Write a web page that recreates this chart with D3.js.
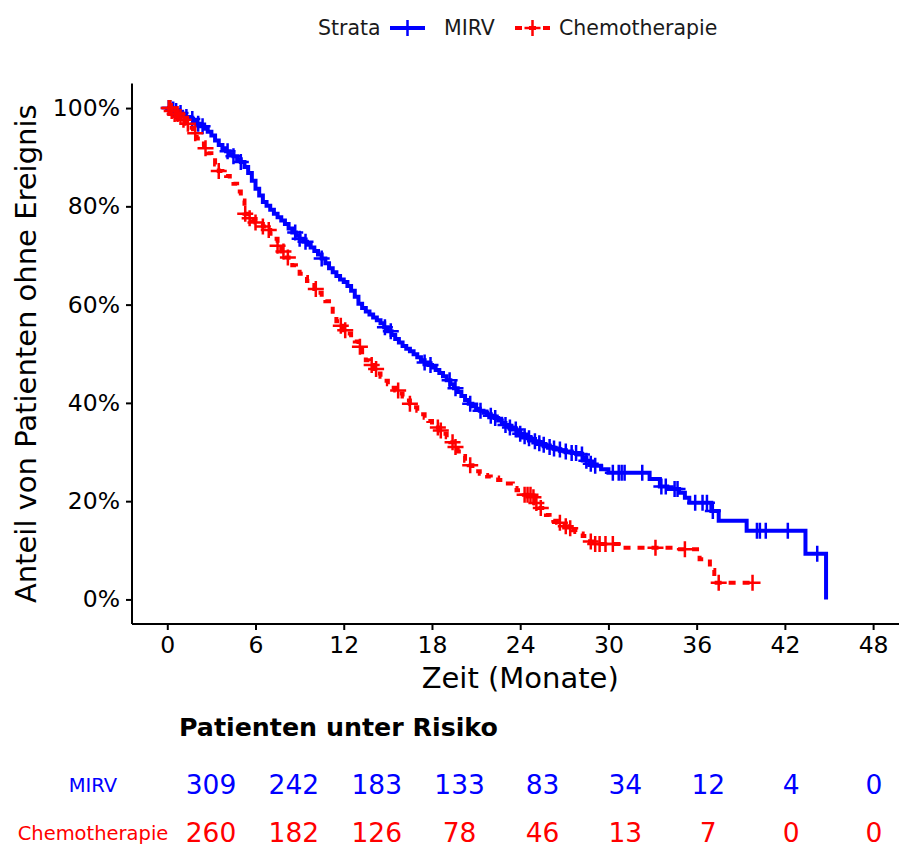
<!DOCTYPE html>
<html>
<head>
<meta charset="utf-8">
<script src="https://cdn.jsdelivr.net/npm/d3@7"></script>
<style>
  html, body { margin: 0; padding: 0; background: #ffffff; }
  svg { display: block; font-family: "DejaVu Sans", sans-serif; }
</style>
</head>
<body>
<svg id="chart" width="899" height="848"></svg>
<script>
// Kaplan-Meier estimates (time in months, survival in %), step after each time
const mirvTime = [0, 0.25, 0.5, 0.75, 1.0, 1.25, 1.5, 1.75, 2.0, 2.25, 2.5, 2.75, 3.0, 3.25, 3.5, 3.75, 4.0, 4.25, 4.5, 4.75, 5.0, 5.25, 5.5, 5.75, 6.0, 6.25, 6.5, 6.75, 7.0, 7.25, 7.5, 7.75, 8.0, 8.25, 8.5, 8.75, 9.0, 9.25, 9.5, 9.75, 10.0, 10.25, 10.5, 10.75, 11.0, 11.25, 11.5, 11.75, 12.0, 12.25, 12.5, 12.75, 13.0, 13.25, 13.5, 13.75, 14.0, 14.25, 14.5, 14.75, 15.0, 15.25, 15.5, 15.75, 16.0, 16.25, 16.5, 16.75, 17.0, 17.25, 17.5, 17.75, 18.0, 18.25, 18.5, 18.75, 19.0, 19.25, 19.5, 19.75, 20.0, 20.25, 20.5, 20.75, 21.0, 21.25, 21.5, 21.75, 22.0, 22.25, 22.5, 22.75, 23.0, 23.25, 23.5, 23.75, 24.0, 24.25, 24.5, 24.75, 25.0, 25.25, 25.5, 25.75, 26.0, 26.25, 26.5, 26.75, 27.0, 27.5, 28.0, 28.25, 28.5, 28.75, 29.0, 29.5, 30.0, 32.8, 33.5, 34.0, 34.8, 35.2, 35.5, 37.0, 37.5, 39.4, 43.4, 44.8];
const mirvSurv = [100, 99.7, 99.4, 99.0, 98.7, 98.2, 97.8, 97.3, 96.8, 96.3, 95.8, 95.2, 94.4, 93.4, 92.5, 91.8, 91.2, 90.6, 90.2, 89.6, 89.0, 88.0, 86.8, 85.2, 83.6, 82.2, 80.9, 80.1, 79.3, 78.5, 77.8, 77.1, 76.4, 75.5, 74.7, 74.0, 73.4, 72.8, 72.2, 71.6, 70.9, 70.2, 69.4, 68.4, 67.4, 66.6, 65.8, 65.1, 64.6, 63.8, 62.8, 61.6, 60.2, 59.3, 58.6, 58.0, 57.4, 56.8, 56.2, 55.4, 54.6, 53.8, 53.0, 52.3, 51.6, 51.0, 50.5, 49.9, 49.3, 48.7, 48.2, 47.7, 47.2, 46.7, 46.1, 45.4, 44.6, 43.8, 43.0, 42.2, 41.4, 40.6, 39.8, 39.3, 38.8, 38.4, 38.0, 37.7, 37.4, 36.9, 36.4, 35.9, 35.5, 35.0, 34.6, 34.1, 33.7, 33.2, 32.8, 32.5, 32.2, 31.8, 31.5, 31.2, 31.0, 30.7, 30.5, 30.3, 30.1, 29.8, 29.5, 28.8, 28.2, 27.6, 27.2, 26.5, 25.8, 24.5, 23.0, 22.5, 21.7, 20.7, 19.7, 18.0, 16.0, 14.0, 9.3, 0];
const mirvCensor = [0.1, 0.2, 0.4, 0.6, 0.9, 1.3, 1.7, 2.1, 2.4, 4.1, 4.5, 5.0, 8.7, 9.0, 9.4, 10.5, 14.8, 15.2, 17.5, 17.9, 19.2, 19.6, 20.6, 21.3, 22.0, 22.3, 23.0, 23.3, 23.7, 24.0, 24.3, 24.6, 25.0, 25.3, 25.6, 26.0, 26.3, 26.7, 27.1, 27.5, 27.8, 28.2, 28.5, 28.8, 29.1, 30.3, 30.7, 30.9, 31.1, 32.3, 33.6, 33.9, 34.5, 34.7, 35.9, 36.4, 36.7, 37.1, 40.1, 40.3, 40.7, 42.2, 44.2];
const mirvLastTime = 44.8;

const chemoTime = [0, 0.25, 0.5, 0.75, 1.0, 1.25, 1.5, 1.75, 2.0, 2.25, 2.5, 2.75, 3.0, 3.25, 3.5, 3.75, 4.0, 4.25, 4.5, 4.75, 5.0, 5.25, 5.5, 5.75, 6.0, 6.25, 6.5, 6.75, 7.0, 7.25, 7.5, 7.75, 8.0, 8.25, 8.5, 8.75, 9.0, 9.25, 9.5, 9.75, 10.0, 10.25, 10.5, 10.75, 11.0, 11.25, 11.5, 11.75, 12.0, 12.25, 12.5, 12.75, 13.0, 13.25, 13.5, 13.75, 14.0, 14.25, 14.5, 14.75, 15.0, 15.25, 15.5, 15.75, 16.0, 16.25, 16.5, 16.75, 17.0, 17.25, 17.5, 17.75, 18.0, 18.25, 18.5, 18.75, 19.0, 19.25, 19.5, 19.75, 20.0, 20.25, 20.5, 20.75, 21.0, 21.25, 21.5, 21.75, 22.0, 22.5, 23.0, 23.5, 23.75, 24.0, 24.25, 24.75, 25.0, 25.25, 25.5, 25.75, 26.0, 26.25, 26.5, 26.75, 27.0, 27.25, 27.5, 27.75, 28.0, 28.25, 28.5, 28.75, 29.0, 31.0, 34.7, 36.2, 36.9, 37.2];
const chemoSurv = [100, 99.4, 98.8, 98.2, 97.6, 96.8, 96.0, 94.9, 93.8, 92.8, 91.8, 90.8, 89.8, 88.5, 87.2, 86.6, 86.2, 85.6, 84.6, 83.0, 81.2, 78.5, 77.6, 77.0, 76.7, 76.4, 75.9, 75.2, 74.4, 73.4, 72.0, 70.8, 69.6, 68.8, 68.0, 67.2, 66.3, 65.6, 64.8, 64.0, 63.2, 62.4, 61.5, 60.7, 59.6, 57.8, 56.6, 55.7, 54.8, 54.1, 53.3, 52.5, 51.4, 49.8, 48.7, 47.7, 46.9, 46.0, 45.3, 44.5, 43.8, 43.1, 42.5, 41.9, 41.3, 40.5, 39.8, 39.1, 38.4, 37.7, 37.0, 36.3, 35.5, 35.0, 34.4, 33.7, 33.0, 32.0, 31.0, 30.1, 29.2, 28.2, 27.3, 26.6, 26.1, 25.6, 25.3, 25.0, 24.8, 24.3, 23.6, 22.7, 22.2, 21.8, 21.3, 20.8, 19.6, 18.6, 17.8, 17.2, 16.6, 16.0, 15.6, 15.2, 14.9, 14.5, 14.1, 13.7, 13.4, 12.9, 12.4, 11.8, 11.3, 10.5, 10.2, 8.2, 6.0, 3.4];
const chemoCensor = [0.1, 0.2, 0.3, 0.5, 0.7, 0.9, 1.1, 1.4, 1.9, 2.6, 3.5, 5.3, 5.6, 6.0, 6.5, 6.9, 7.5, 7.9, 8.2, 10.1, 11.8, 12.1, 13.1, 13.9, 14.2, 15.7, 16.5, 18.4, 18.6, 19.4, 19.6, 20.6, 24.3, 24.5, 24.7, 24.9, 25.1, 25.4, 26.7, 27.1, 27.4, 28.8, 29.1, 29.4, 29.8, 30.3, 33.2, 35.2, 37.5, 39.8];
const chemoLastTime = 39.8;

// Patients at risk
const riskTimes = [0, 6, 12, 18, 24, 30, 36, 42, 48];
const mirvRisk = [309, 242, 183, 133, 83, 34, 12, 4, 0];
const chemoRisk = [260, 182, 126, 78, 46, 13, 7, 0, 0];

const xTicks = [0, 6, 12, 18, 24, 30, 36, 42, 48];
const yTicks = [0, 20, 40, 60, 80, 100];
const groupNames = ["MIRV", "Chemotherapie"];
const groupColors = ["#0000ff", "#ff0000"];

const svg = d3.select("#chart");

// Survival panel
const x = d3.scaleLinear().domain([-2.4, 50.4]).range([132, 908.4]);
const y = d3.scaleLinear().domain([-5, 105]).range([624, 83.5]);

const gAxisX = svg.append("g").attr("transform", "translate(0,624)")
  .call(d3.axisBottom(x).tickValues(xTicks).tickSize(6).tickPadding(6).tickFormat(d3.format("d")));
const gAxisY = svg.append("g").attr("transform", "translate(132,0)")
  .call(d3.axisLeft(y).tickValues(yTicks).tickSize(6).tickPadding(6).tickFormat(d => d + "%"));

[gAxisX, gAxisY].forEach(g => {
  g.select(".domain").attr("stroke", "#000").attr("stroke-width", 2);
  g.selectAll(".tick line").attr("stroke", "#000").attr("stroke-width", 2);
  g.selectAll(".tick text").attr("fill", "#000").attr("font-size", 23.5)
    .attr("font-family", "DejaVu Sans, sans-serif");
});
gAxisX.select(".domain").attr("d", `M${x.range()[0]},0H${x.range()[1]}`);
gAxisY.select(".domain").attr("d", `M0,${y.range()[1]}V${y.range()[0]}`);

// Axis titles
svg.append("text").attr("x", x(24)).attr("y", 688).attr("text-anchor", "middle")
  .attr("font-size", 29).attr("fill", "#000").text("Zeit (Monate)");
svg.append("text").attr("transform", `translate(36,${y(50)}) rotate(-90)`)
  .attr("text-anchor", "middle").attr("font-size", 29).attr("fill", "#000")
  .text("Anteil von Patienten ohne Ereignis");

// Step function lookup
function survAt(times, surv, t) {
  let s = surv[0];
  for (let i = 0; i < times.length; i++) { if (times[i] <= t) s = surv[i]; }
  return s;
}

const groups = [
  { time: mirvTime, surv: mirvSurv, censor: mirvCensor, last: mirvLastTime, color: groupColors[0], dash: null },
  { time: chemoTime, surv: chemoSurv, censor: chemoCensor, last: chemoLastTime, color: groupColors[1], dash: "7,7" }
];

const line = d3.line().x(d => x(d[0])).y(d => y(d[1])).curve(d3.curveStepAfter);
const plusPath = s => `M${-s / 2},0H${s / 2}M0,${-s / 2}V${s / 2}`;

groups.forEach(g => {
  const pts = g.time.map((t, i) => [t, g.surv[i]]);
  const lastPt = pts[pts.length - 1];
  if (g.last > lastPt[0]) pts.push([g.last, lastPt[1]]);
  svg.append("path").datum(pts).attr("d", line)
    .attr("fill", "none").attr("stroke", g.color).attr("stroke-width", 4)
    .attr("stroke-dasharray", g.dash);
  svg.append("g").selectAll("path").data(g.censor).join("path")
    .attr("transform", t => `translate(${x(t)},${y(survAt(g.time, g.surv, t))})`)
    .attr("d", plusPath(16)).attr("stroke", g.color).attr("stroke-width", 2.5).attr("fill", "none");
});

// Legend
const legend = svg.append("g").attr("font-size", 20.5).attr("fill", "#1a1a1a");
legend.append("text").attr("x", 318).attr("y", 35).text("Strata");
const legendItems = [{ x0: 390, tx: 444 }, { x0: 515, tx: 559 }];
legendItems.forEach((it, i) => {
  legend.append("path").attr("d", `M${it.x0},28H${it.x0 + 35}`)
    .attr("stroke", groupColors[i]).attr("stroke-width", 4)
    .attr("stroke-dasharray", groups[i].dash);
  legend.append("path").attr("transform", `translate(${it.x0 + 17.5},28)`)
    .attr("d", plusPath(16)).attr("stroke", groupColors[i]).attr("stroke-width", 2.5);
  legend.append("text").attr("x", it.tx).attr("y", 35).text(groupNames[i]);
});

// Risk table
const xr = d3.scaleLinear().domain([0, 48]).range([211, 874]);
svg.append("text").attr("x", 179).attr("y", 736).attr("font-size", 25.3)
  .attr("font-weight", "bold").attr("fill", "#000").text("Patienten unter Risiko");

const rows = [{ vals: mirvRisk, y: 785 }, { vals: chemoRisk, y: 833 }];
rows.forEach((r, i) => {
  svg.append("text").attr("x", 93).attr("y", r.y).attr("dy", "0.35em")
    .attr("text-anchor", "middle").attr("font-size", 19.5).attr("fill", groupColors[i])
    .text(groupNames[i]);
  svg.append("g").selectAll("text").data(r.vals).join("text")
    .attr("x", (d, j) => xr(riskTimes[j])).attr("y", r.y).attr("dy", "0.35em")
    .attr("text-anchor", "middle").attr("font-size", 26.5).attr("fill", groupColors[i])
    .text(d => d);
});
</script>
</body>
</html>
